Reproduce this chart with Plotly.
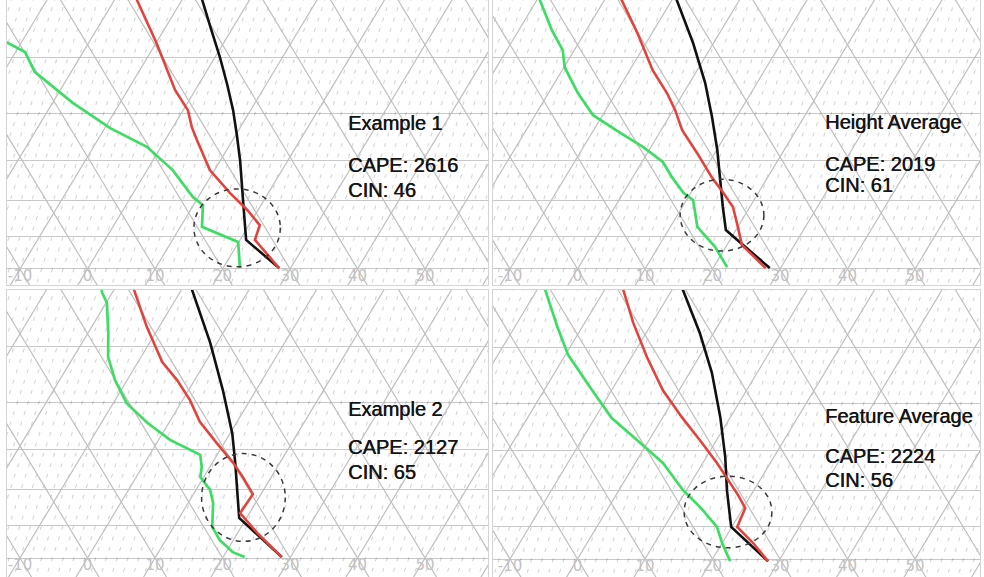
import numpy as np
import plotly.graph_objects as go

# ---------------------------------------------------------------
# Sounding profiles: pressure (hPa) and temperature (deg C)
# ---------------------------------------------------------------
# Example 1
ex1_temp_p = [997, 909, 866, 824, 779, 723, 655, 628, 594, 556, 477, 400]
ex1_temp_t = [28.3, 22.2, 21.6, 18.4, 14.3, 9.3, 4.7, 2.8, 0.7, -3.0, -9.9, -18.3]
ex1_dew_p = [997, 915, 871, 811, 790, 723, 670, 630, 580, 524, 491, 477, 460]
ex1_dew_t = [22.5, 19.9, 13.2, 11.4, 9.2, 3.8, -2.1, -9.2, -17.0, -25.4, -28.6, -31.9, -35.9]
ex1_parcel_p = [997, 909, 798, 700, 645, 594, 547, 499, 452, 400]
ex1_parcel_t = [28.3, 20.9, 16.9, 12.9, 10.2, 7.4, 4.3, 0.7, -3.4, -8.4]

# Height Average
hgt_temp_p = [997, 971, 924, 871, 816, 779, 740, 684, 634, 594, 562, 521, 461, 401]
hgt_temp_t = [27.8, 25.8, 22.2, 20.0, 17.5, 14.8, 11.7, 7.4, 3.1, 0.3, -2.4, -6.6, -12.2, -19.0]
hgt_dew_p = [994, 930, 871, 832, 798, 779, 740, 704, 670, 640, 604, 562, 516, 488, 457, 401]
hgt_dew_t = [22.0, 18.4, 14.0, 12.4, 11.0, 8.9, 5.8, 3.1, -1.2, -5.8, -11.4, -15.6, -19.9, -21.7, -25.1, -31.0]
hgt_parcel_p = [997, 880, 816, 747, 677, 608, 543, 477, 401]
hgt_parcel_t = [28.4, 18.5, 16.0, 13.2, 10.1, 6.4, 2.3, -3.0, -10.7]

# Example 2
ex2_temp_p = [997, 921, 863, 811, 767, 732, 686, 640, 596, 558, 526, 469, 402]
ex2_temp_t = [28.7, 22.9, 18.6, 18.8, 15.8, 13.1, 8.9, 4.5, 1.1, -2.6, -6.4, -11.8, -18.4]
ex2_dew_p = [997, 981, 943, 903, 835, 800, 767, 742, 713, 702, 679, 642, 602, 558, 517, 478, 433, 419, 402]
ex2_dew_t = [23.2, 21.0, 18.0, 15.7, 13.7, 12.1, 9.5, 8.8, 7.5, 5.6, 1.7, -3.2, -8.0, -11.8, -14.9, -17.0, -19.9, -21.5, -22.9]
ex2_parcel_p = [997, 877, 800, 732, 664, 577, 494, 402]
ex2_parcel_t = [28.7, 18.9, 16.1, 13.4, 10.3, 5.1, -1.0, -9.8]

# Feature Average
feat_temp_p = [1007, 949, 900, 846, 811, 772, 730, 677, 628, 575, 516, 461, 401]
feat_temp_t = [28.4, 24.6, 20.8, 20.3, 18.1, 15.3, 12.1, 7.5, 2.8, -2.4, -7.7, -12.8, -18.5]
feat_dew_p = [1007, 949, 900, 843, 798, 730, 677, 630, 569, 512, 467, 401]
feat_dew_t = [22.8, 20.0, 17.8, 13.5, 9.5, 4.1, -1.8, -7.5, -13.5, -19.6, -23.7, -30.1]
feat_parcel_p = [1007, 900, 798, 716, 628, 543, 477, 401]
feat_parcel_t = [28.4, 19.9, 16.0, 12.8, 8.5, 3.3, -2.0, -9.8]

# Panel titles and indices
panel_names = ["Example 1", "Height Average", "Example 2", "Feature Average"]
cape_values = [2616, 2019, 2127, 2224]
cin_values = [46, 61, 65, 56]

# Highlighted LCL region in each panel: centre temperature, half-width (deg C),
# and the pressure span of the ring
ring_t = [18.5, 16.6, 17.7, 18.1]
ring_p_center = [874, 838, 820, 857]
ring_half_width = [6.4, 6.2, 6.2, 6.5]
ring_p_top = [769, 745, 710, 762]
ring_p_bottom = [993, 943, 947, 964]

# Isotherm labels along the bottom of each diagram
isotherm_labels = [-10, 0, 10, 20, 30, 40, 50]
pressure_levels = [500, 600, 700, 800, 900, 1000]

# ---------------------------------------------------------------
# Skew-T geometry
# ---------------------------------------------------------------
K_SKEW = 27.2      # isotherm skew, deg C per unit ln(p)
K_MIX = 14.9       # lean of the dashed mixing-ratio guides


def skew(t, p):
    return np.asarray(t, float) + K_SKEW * np.log(1000.0 / np.asarray(p, float))


def segments(xpairs, ypair):
    xs, ys = [], []
    for a, b in xpairs:
        xs += [a, b, None]
        ys += [ypair[0], ypair[1], None]
    return xs, ys


P_LO, P_HI = 1120.0, 370.0
L_LO, L_HI = np.log(1000 / P_LO), np.log(1000 / P_HI)

profiles = [
    (ex1_temp_p, ex1_temp_t, ex1_dew_p, ex1_dew_t, ex1_parcel_p, ex1_parcel_t),
    (hgt_temp_p, hgt_temp_t, hgt_dew_p, hgt_dew_t, hgt_parcel_p, hgt_parcel_t),
    (ex2_temp_p, ex2_temp_t, ex2_dew_p, ex2_dew_t, ex2_parcel_p, ex2_parcel_t),
    (feat_temp_p, feat_temp_t, feat_dew_p, feat_dew_t, feat_parcel_p, feat_parcel_t),
]

x_domains = [[0.00711, 0.49593], [0.50102, 0.99593], [0.00711, 0.49593], [0.50102, 0.99593]]
y_domains = [[0.50607, 1.0], [0.50607, 1.0], [0.0, 0.49740], [0.0, 0.49740]]
x_ranges = [[-11.93, 59.33], [-12.52, 59.63], [-11.93, 59.33], [-12.52, 59.63]]
y_ranges = [[3.02280, 2.61690], [3.02280, 2.61690], [3.02706, 2.61836], [3.02563, 2.61690]]
label_p = [1027, 1027, 1029, 1028]

GRID = "#bfbfbf"
RED = "#e2443d"
GREEN = "#3ddc63"

fig = go.Figure()
layout = dict(
    width=984, height=577, margin=dict(l=0, r=0, t=0, b=0),
    paper_bgcolor="white", plot_bgcolor="white",
    showlegend=False, hovermode=False,
)

shapes = []
annotations = []

for i in range(4):
    n = "" if i == 0 else str(i + 1)
    xa, ya = "x" + n, "y" + n

    # dashed mixing-ratio guides
    mix = [(c + K_MIX * L_LO, c + K_MIX * L_HI) for c in np.arange(-26, 62, 1.6)]
    mx, my = segments(mix, (P_LO, P_HI))
    fig.add_trace(go.Scatter(x=mx, y=my, mode="lines", xaxis=xa, yaxis=ya,
                             line=dict(color="rgba(0,0,0,0.17)", width=1.1, dash="4px,7px"),
                             hoverinfo="skip"))

    # isotherms (lean right) and adiabats (lean left)
    iso = [(c + K_SKEW * L_LO, c + K_SKEW * L_HI) for c in range(-60, 70, 10)]
    adi = [(c - K_SKEW * L_LO, c - K_SKEW * L_HI) for c in range(-20, 140, 10)]
    gx, gy = segments(iso + adi, (P_LO, P_HI))
    fig.add_trace(go.Scatter(x=gx, y=gy, mode="lines", xaxis=xa, yaxis=ya,
                             line=dict(color=GRID, width=1.2), hoverinfo="skip"))

    # isotherm labels
    fig.add_trace(go.Scatter(
        x=skew(isotherm_labels, [1000] * len(isotherm_labels)),
        y=[label_p[i]] * len(isotherm_labels),
        mode="text", text=[str(v) for v in isotherm_labels],
        textfont=dict(color="#c2c2c2", size=15, family="DejaVu Sans"),
        xaxis=xa, yaxis=ya, hoverinfo="skip"))

    tp, tt, dp, dt, pp, pt = profiles[i]
    fig.add_trace(go.Scatter(x=skew(dt, dp), y=dp, mode="lines", xaxis=xa, yaxis=ya,
                             line=dict(color=GREEN, width=2.7)))
    fig.add_trace(go.Scatter(x=skew(pt, pp), y=pp, mode="lines", xaxis=xa, yaxis=ya,
                             line=dict(color="#111111", width=2.6)))
    fig.add_trace(go.Scatter(x=skew(tt, tp), y=tp, mode="lines", xaxis=xa, yaxis=ya,
                             line=dict(color=RED, width=2.6)))

    # dashed ring around the LCL region
    cx = float(skew(ring_t[i], ring_p_center[i]))
    shapes.append(dict(type="circle", xref=xa, yref=ya,
                       x0=cx - ring_half_width[i], x1=cx + ring_half_width[i],
                       y0=ring_p_bottom[i], y1=ring_p_top[i],
                       line=dict(color="#3a3a3a", width=1.5, dash="5px,5px")))

    layout["xaxis" + n] = dict(domain=x_domains[i], range=x_ranges[i], anchor=ya,
                               showgrid=False, zeroline=False, showticklabels=False,
                               ticks="", showline=True, mirror=True,
                               linecolor="#d4d4d4", linewidth=1)
    layout["yaxis" + n] = dict(domain=y_domains[i], range=y_ranges[i], type="log",
                               anchor=xa, tickvals=pressure_levels,
                               showticklabels=False, ticks="", showgrid=True,
                               gridcolor="#c8c8c8", gridwidth=1.3, zeroline=False,
                               showline=True, mirror=True,
                               linecolor="#d4d4d4", linewidth=1)

# panel text (left edge and vertical centre of each line, in page pixels)
text_x = [346, 823, 346, 823]
text_y = [(123.5, 164.5, 189.5), (122, 163.5, 185.5), (409, 447, 472), (415.5, 456, 479.5)]
for i in range(4):
    lines = [panel_names[i], f"CAPE: {cape_values[i]}", f"CIN: {cin_values[i]}"]
    for txt, yy in zip(lines, text_y[i]):
        annotations.append(dict(text=txt, xref="paper", yref="paper",
                                x=text_x[i] / 984, y=1 - yy / 577,
                                xanchor="left", yanchor="middle", showarrow=False,
                                font=dict(family="Liberation Sans, Arial", size=20,
                                          color="#151515",
                                          shadow="0.5px 0px 0px #151515")))

layout["shapes"] = shapes
layout["annotations"] = annotations
fig.update_layout(**layout)
fig.write_html("out.html")
